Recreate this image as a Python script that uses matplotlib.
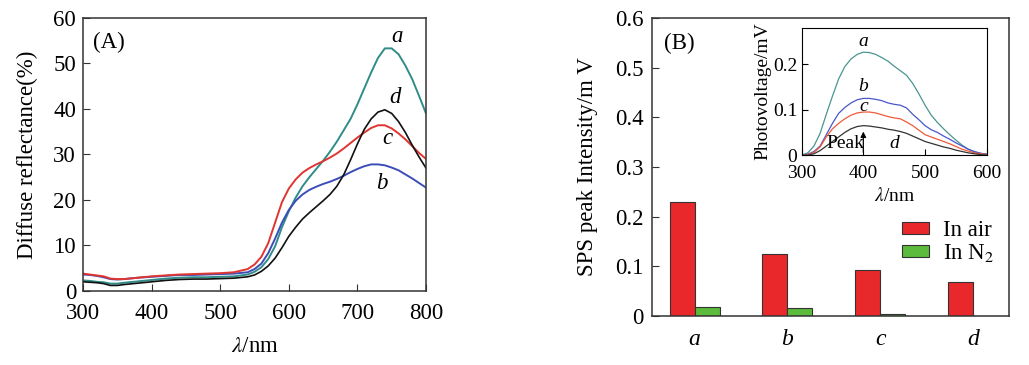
import matplotlib.pyplot as plt
import numpy as np

plt.rcParams['font.family'] = ['Liberation Serif', 'DejaVu Serif']
plt.rcParams['mathtext.fontset'] = 'stix'

# Panel A: diffuse reflectance spectra
wl = [300, 310, 320, 330, 340, 350, 360, 380, 400, 420, 440, 460, 480, 500, 520, 540,
      550, 560, 570, 580, 590, 600, 610, 620, 630, 640, 650, 660, 670, 680, 690, 700,
      710, 720, 730, 740, 750, 760, 770, 780, 790, 800]
refl_a = [2.3, 2.2, 2.0, 1.9, 1.6, 1.6, 1.8, 2.1, 2.4, 2.7, 2.9, 3.0, 3.0, 3.1, 3.2, 3.6,
          4.2, 5.2, 7.0, 9.8, 14.0, 17.5, 20.5, 23.0, 25.0, 26.8, 28.6, 30.6, 32.8, 35.3, 37.8, 41.0,
          44.5, 48.0, 51.2, 53.3, 53.3, 52.0, 49.5, 46.5, 42.8, 39.0]
refl_b = [3.6, 3.5, 3.3, 3.0, 2.6, 2.5, 2.6, 2.9, 3.1, 3.3, 3.5, 3.5, 3.6, 3.7, 3.8, 4.1,
          4.8, 6.0, 8.3, 11.5, 15.0, 17.8, 19.8, 21.2, 22.2, 22.9, 23.5, 24.0, 24.6, 25.3, 26.1, 26.8,
          27.4, 27.8, 27.8, 27.6, 27.1, 26.5, 25.6, 24.7, 23.7, 22.7]
refl_c = [3.8, 3.6, 3.4, 3.2, 2.7, 2.6, 2.6, 2.9, 3.2, 3.4, 3.6, 3.7, 3.8, 3.9, 4.1, 4.8,
          5.8, 7.5, 10.5, 15.0, 19.5, 22.5, 24.5, 26.0, 27.0, 27.8, 28.5, 29.3, 30.2, 31.3, 32.5, 33.7,
          34.8, 35.8, 36.4, 36.4, 35.7, 34.6, 33.3, 31.8, 30.3, 29.0]
refl_d = [2.0, 1.9, 1.8, 1.6, 1.2, 1.2, 1.4, 1.7, 2.0, 2.3, 2.5, 2.6, 2.6, 2.7, 2.8, 3.1,
          3.5, 4.3, 5.5, 7.2, 9.5, 12.0, 14.0, 15.8, 17.2, 18.5, 19.8, 21.2, 23.0, 25.5, 28.8, 32.3,
          35.5, 37.8, 39.3, 39.8, 39.0, 37.2, 34.8, 32.0, 29.4, 27.0]

# Panel B: SPS peak intensity
samples = ['a', 'b', 'c', 'd']
in_air = [0.23, 0.125, 0.093, 0.068]
in_n2 = [0.018, 0.016, 0.005, 0.0]

# Inset: photovoltage spectra
wl_sps = [300, 310, 320, 330, 340, 350, 360, 370, 380, 390, 400, 410, 420, 430, 440, 450,
          460, 470, 480, 490, 500, 510, 520, 530, 540, 550, 560, 570, 580, 590, 600]
pv_a = [0.0, 0.005, 0.02, 0.048, 0.09, 0.13, 0.168, 0.195, 0.212, 0.222, 0.227, 0.226, 0.222, 0.215, 0.207, 0.196,
        0.186, 0.176, 0.158, 0.135, 0.11, 0.088, 0.072, 0.058, 0.045, 0.033, 0.022, 0.013, 0.007, 0.004, 0.002]
pv_b = [0.0, 0.002, 0.008, 0.02, 0.045, 0.07, 0.092, 0.105, 0.115, 0.122, 0.125, 0.125, 0.123, 0.12, 0.115, 0.112,
        0.11, 0.104, 0.09, 0.078, 0.065, 0.056, 0.05, 0.042, 0.035, 0.027, 0.02, 0.013, 0.008, 0.004, 0.002]
pv_c = [0.0, 0.001, 0.006, 0.018, 0.04, 0.058, 0.07, 0.08, 0.088, 0.093, 0.095, 0.095, 0.093, 0.089, 0.085, 0.082,
        0.08, 0.073, 0.065, 0.055, 0.045, 0.04, 0.035, 0.03, 0.025, 0.019, 0.013, 0.009, 0.005, 0.003, 0.001]
pv_d = [0.0, 0.0, 0.003, 0.01, 0.02, 0.03, 0.04, 0.05, 0.058, 0.063, 0.065, 0.064, 0.062, 0.06, 0.057, 0.055,
        0.052, 0.048, 0.042, 0.036, 0.03, 0.026, 0.022, 0.018, 0.015, 0.011, 0.008, 0.005, 0.003, 0.001, 0.0]

c_teal = '#2f8c88'
c_blue = '#3c4db8'
c_red = '#e03530'
c_black = '#111111'

fs = 16.5   # main text size
fs_in = 14  # inset text size

fig = plt.figure(figsize=(10.29, 3.65), dpi=100)

# ---- Panel A
ax1 = fig.add_axes([0.0807, 0.203, 0.3333, 0.748])
ax1.plot(wl, refl_a, color=c_teal, lw=1.4)
ax1.plot(wl, refl_b, color=c_blue, lw=1.4)
ax1.plot(wl, refl_c, color=c_red, lw=1.4)
ax1.plot(wl, refl_d, color=c_black, lw=1.2)
ax1.set_xlim(300, 800)
ax1.set_ylim(0, 60)
ax1.set_xticks([300, 400, 500, 600, 700, 800])
ax1.set_yticks([0, 10, 20, 30, 40, 50, 60])
ax1.tick_params(direction='in', labelsize=fs, length=5, color='#333333')
ax1.tick_params(axis='x', pad=9)
ax1.tick_params(axis='y', pad=5)
ax1.set_xlabel(r'$\lambda$/nm', fontsize=fs, labelpad=8)
ax1.set_ylabel('Diffuse reflectance(%)', fontsize=fs, labelpad=11)
ax1.text(0.03, 0.95, '(A)', transform=ax1.transAxes, fontsize=fs, va='top')
for lab, x, y in [('a', 758, 56), ('d', 755, 42.5), ('c', 743, 33.5), ('b', 736, 23.5)]:
    ax1.text(x, y, lab, fontsize=fs, style='italic', ha='center', va='center')
for s in ax1.spines.values():
    s.set_linewidth(1.1)
    s.set_color('#333333')

# ---- Panel B
ax2 = fig.add_axes([0.6336, 0.134, 0.347, 0.817])
x = np.arange(len(samples))
w = 0.27
ax2.bar(x - w / 2, in_air, w, color='#e8282b', edgecolor='#333333', lw=0.8, label='In air')
ax2.bar(x + w / 2, in_n2, w, color='#5cbb3c', edgecolor='#333333', lw=0.8, label='In N$_2$')
ax2.set_xlim(-0.46, 3.39)
ax2.set_ylim(0, 0.6)
ax2.set_xticks(x)
ax2.set_xticklabels(samples, fontsize=17, style='italic')
ax2.set_yticks([0, 0.1, 0.2, 0.3, 0.4, 0.5, 0.6])
ax2.set_yticklabels(['0', '0.1', '0.2', '0.3', '0.4', '0.5', '0.6'])
ax2.tick_params(axis='y', direction='in', labelsize=fs, length=5, color='#333333', pad=6)
ax2.tick_params(axis='x', length=0, pad=9)
ax2.set_ylabel('SPS peak Intensity/m V', fontsize=fs, labelpad=12)
ax2.text(0.035, 0.95, '(B)', transform=ax2.transAxes, fontsize=fs, va='top')
ax2.legend(loc='upper left', bbox_to_anchor=(0.668, 0.36), frameon=False, fontsize=fs,
           borderpad=0, handlelength=1.2, handleheight=0.45, labelspacing=0.05,
           handletextpad=0.6)
for s in ax2.spines.values():
    s.set_linewidth(1.1)
    s.set_color('#333333')

# ---- Inset
ax3 = fig.add_axes([0.779, 0.575, 0.18, 0.348])
ax3.plot(wl_sps, pv_a, color='#4a9590', lw=0.9)
ax3.plot(wl_sps, pv_b, color='#4a56c8', lw=0.9)
ax3.plot(wl_sps, pv_c, color='#f05a3a', lw=0.9)
ax3.plot(wl_sps, pv_d, color='#333333', lw=0.9)
ax3.set_xlim(300, 600)
ax3.set_ylim(0, 0.28)
ax3.set_xticks([300, 400, 500, 600])
ax3.set_yticks([0, 0.1, 0.2])
ax3.set_yticklabels(['0', '0.1', '0.2'])
ax3.tick_params(direction='in', labelsize=fs_in, length=4)
ax3.tick_params(axis='x', pad=7)
ax3.tick_params(axis='y', pad=3)
ax3.set_xlabel(r'$\lambda$/nm', fontsize=fs_in, labelpad=4)
ax3.set_ylabel('Photovoltage/mV', fontsize=fs_in, labelpad=1)
for lab, xx, yy in [('a', 400, 0.25), ('b', 400, 0.152), ('c', 400, 0.108), ('d', 450, 0.025)]:
    ax3.text(xx, yy, lab, fontsize=fs_in, style='italic', ha='center', va='center')
ax3.annotate('', xy=(400, 0.058), xytext=(400, 0.0),
             arrowprops=dict(arrowstyle='-|>', color='black', lw=0.9, mutation_scale=8))
ax3.text(401, 0.025, 'Peak', fontsize=fs_in, ha='right', va='center')

fig.savefig('out.png', dpi=100)
